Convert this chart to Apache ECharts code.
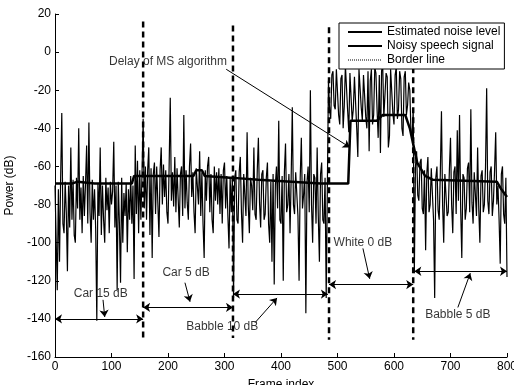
<!DOCTYPE html>
<html>
<head>
<meta charset="utf-8">
<script src="https://cdn.jsdelivr.net/npm/echarts@6/dist/echarts.min.js"></script>
<style>
	html,body{margin:0;padding:0;background:#fff;}
	#GraficoRuido{width:514px;height:385px;}
</style>
</head>
<body>
<div id="GraficoRuido"></div>
<script>
// one value every 2 frames, one array per noise type
var pasoFrame = 2;
var senalCar15 = [-70,-98,-125,-72,-110,-66,-32,-90,-95,-68,-84,-115,-70,-92,-50,-88,-67,-96,-100,-66,
	-82,-40,-88,-71,-95,-65,-86,-69,-49,-90,-37,-84,-100,-67,-88,-72,-93,-141,-69,-86,
	-50,-96,-70,-88,-100,-66,-83,-71,-95,-68,-80,-73,-47,-92,-70,-125,-68,-90,-121,-66,
	-100,-74,-86,-69,-105,-72,-88,-65,-90,-70,-119,-49,-85,-57,-95,-62,-88,-64];
var senalCar5 = [-35,-82,-60,-88,-62,-50,-96,-61,-108,-64,-58,-85,-60,-79,-97,-62,-50,-80,-59,-76,
	-62,-84,-90,-60,-24,-78,-63,-81,-55,-84,-61,-77,-92,-64,-60,-86,-33,-82,-62,-79,
	-88,-60,-48,-76,-63,-84,-95,-61,-60,-80,-52,-86,-63,-90,-108,-62,-78,-60,-55,-84,
	-64,-88,-95,-60,-78,-63,-80,-61,-85,-64,-90,-62,-58,-82,-65,-86,-103,-66,-84,-65];
var senalBabble10 = [-129,-66,-62,-88,-90,-63,-55,-84,-100,-64,-65,-86,-42,-80,-95,-66,-70,-83,-50,-85,
	-88,-62,-45,-79,-92,-64,-62,-88,-85,-66,-58,-90,-100,-68,-110,-64,-122,-70,-60,-82,
	-36,-88,-90,-65,-120,-63,-48,-84,-80,-64,-95,-66,-29,-80,-85,-63,-62,-86,-120,-66,
	-45,-82,-75,-64,-137,-68,-60,-84,-20,-80,-100,-64,-66,-90,-50,-86,-110,-64,-58,-88,
	-90,-66,-129,-72];
var senalWhite0 = [-15,-30,-35,-12,-10,-28,-30,-9,-8,-33,-38,-14,-12,-40,-28,-7,-6,-31,-42,-11,
	-10,-36,-30,-13,-14,-40,-55,-9,-8,-29,-36,-12,-12,-34,-40,-10,-52,-15,-9,-38,
	-33,-8,-11,-30,-45,-12,-53,-10,-7,-34,-35,-11,-13,-50,-44,-9,-10,-32,-38,-12,
	-8,-35,-30,-10,-14,-40,-44,-13,-10,-33,-28,-16,-20,-42,-45,-30];
var senalBabble5 = [-116,-60,-52,-75,-78,-58,-56,-82,-85,-62,-104,-64,-55,-84,-80,-61,-62,-88,-129,-66,
	-60,-83,-88,-63,-31,-80,-100,-64,-65,-86,-84,-62,-45,-80,-95,-63,-60,-85,-41,-78,
	-33,-82,-108,-64,-66,-88,-82,-61,-58,-84,-30,-79,-90,-63,-64,-86,-50,-82,-100,-65,
	-62,-84,-80,-60,-19,-78,-85,-63,-60,-86,-78,-62,-42,-80,-70,-88,-111,-64,-60,-85,
	-90,-66,-118];

// estimated noise level (frame, dB)
var ruidoFrames = [0,30,40,70,136,140,245,250,260,265,316,360,470,519,523,570,580,620,628,641,655,669,782,790,800];
var ruidoValores = [-69,-69,-68,-69,-69,-65,-65,-62,-62,-65,-66,-67,-69,-69,-36,-36,-33,-33,-40,-58,-65,-67,-68,-72,-76];

// border lines
var bordeFrames = [156,315,485,634];
var bordeArriba = [16,14,13,13];
var bordeAbajo = [-150,-150,-151,-151];

// annotations
var notasTexto = ['Delay of MS algorithm','Car 15 dB','Car 5 dB','Babble 10 dB','White 0 dB','Babble 5 dB'];
var notasPos = [[200,-5],[81,-127],[232,-116],[296,-144],[545,-100],[713,-138]];
var flechas = [[[303,-9],[522,-50]],[[85,-130],[88,-139]],[[230,-121],[239,-131]],[[354,-142],[393,-129]],[[545,-103],[557,-119]],[[713,-134],[735,-116]]];
var tramos = [[[0,-140],[156,-140]],[[156,-134],[315,-134]],[[315,-127],[483,-127]],[[485,-122],[634,-122]],[[636,-115],[800,-115]]];

var senal = senalCar15.concat(senalCar5, senalBabble10, senalWhite0, senalBabble5);
var $each = function(arr, fn){ for (var i = 0; i < arr.length; i++) fn(i, arr[i]); };
var datosSenal = new Array();
$each(senal, function(index, element){
	datosSenal.push([index * pasoFrame, element]);
});
var datosRuido = new Array();
$each(ruidoFrames, function(index, element){
	datosRuido.push([element, ruidoValores[index]]);
});
var datosBorde = new Array();
$each(bordeFrames, function(index, element){
	if (index > 0) datosBorde.push('-');
	datosBorde.push([element, bordeArriba[index]]);
	datosBorde.push([element, bordeAbajo[index]]);
});
var datosNotas = new Array();
$each(notasTexto, function(index, element){
	datosNotas.push({name: element, value: notasPos[index]});
});

var fuente = 'Liberation Sans, Arial, sans-serif';
var dom = document.getElementById("GraficoRuido");
var myChart = echarts.init(dom);
var option = null;
option = {
	animation: false,
	backgroundColor: '#fff',
	textStyle: {fontFamily: fuente, color: '#000'},
	grid: {left: 55, right: 7, top: 14, bottom: 28, outerBoundsMode: 'none', containLabel: false},
	legend: {
		orient: 'vertical',
		left: 339,
		top: 23,
		padding: [3, 4, 3, 8],
		itemWidth: 34,
		itemHeight: 12,
		itemGap: 2,
		backgroundColor: '#fff',
		borderColor: '#000',
		borderWidth: 1,
		borderRadius: 0,
		itemStyle: {opacity: 0, color: 'transparent', borderWidth: 0},
		textStyle: {fontSize: 12, color: '#000', fontFamily: fuente, lineHeight: 12},
		data: [
			{name: 'Estimated noise level'},
			{name: 'Noisy speech signal'},
			{name: 'Border line', lineStyle: {type: 'dotted', width: 1}}
		]
	},
	xAxis: {
		type: 'value',
		min: 0,
		max: 800,
		interval: 100,
		name: 'Frame index',
		nameLocation: 'middle',
		nameGap: 22,
		nameTextStyle: {fontSize: 12, color: '#000'},
		axisLine: {onZero: false, lineStyle: {color: '#000', width: 1}},
		axisTick: {inside: true, length: 4, lineStyle: {color: '#000'}},
		axisLabel: {fontSize: 12, color: '#000', margin: 4},
		splitLine: {show: false}
	},
	yAxis: {
		type: 'value',
		min: -160,
		max: 20,
		interval: 20,
		name: 'Power (dB)',
		nameLocation: 'middle',
		nameGap: 38,
		nameTextStyle: {fontSize: 12, color: '#000'},
		axisLine: {show: true, onZero: false, lineStyle: {color: '#000', width: 1}},
		axisTick: {show: true, inside: true, length: 4, lineStyle: {color: '#000'}},
		axisLabel: {fontSize: 12, color: '#000', margin: 4},
		splitLine: {show: false}
	},
	series: [
		{
			name: 'Noisy speech signal',
			type: 'line',
			symbol: 'none',
			z: 2,
			lineStyle: {color: '#000', width: 1.2},
			itemStyle: {color: '#000'},
			data: datosSenal
		},
		{
			name: 'Estimated noise level',
			type: 'line',
			symbol: 'none',
			z: 3,
			lineStyle: {color: '#000', width: 2.5},
			itemStyle: {color: '#000'},
			data: datosRuido
		},
		{
			name: 'Border line',
			type: 'line',
			symbol: 'none',
			z: 3,
			connectNulls: false,
			lineStyle: {color: '#000', width: 2.5, type: [6, 4]},
			itemStyle: {color: '#000'},
			data: datosBorde
		},
		{
			name: 'flechas',
			type: 'lines',
			coordinateSystem: 'cartesian2d',
			z: 4,
			symbol: ['none', 'arrow'],
			symbolSize: 7,
			lineStyle: {color: '#000', width: 1, opacity: 1, curveness: 0},
			data: flechas.map(function(c){ return {coords: c}; })
		},
		{
			name: 'tramos',
			type: 'lines',
			coordinateSystem: 'cartesian2d',
			z: 4,
			symbol: ['arrow', 'arrow'],
			symbolSize: 7,
			lineStyle: {color: '#000', width: 1, opacity: 1, curveness: 0},
			data: tramos.map(function(c){ return {coords: c}; })
		},
		{
			name: 'notas',
			type: 'scatter',
			symbolSize: 0,
			z: 5,
			label: {
				show: true,
				position: 'inside',
				formatter: '{b}',
				fontSize: 12,
				color: '#000',
				fontFamily: fuente
			},
			data: datosNotas
		}
	]
};

if (option && typeof option === "object") {
	myChart.setOption(option, true);
}
</script>
</body>
</html>
